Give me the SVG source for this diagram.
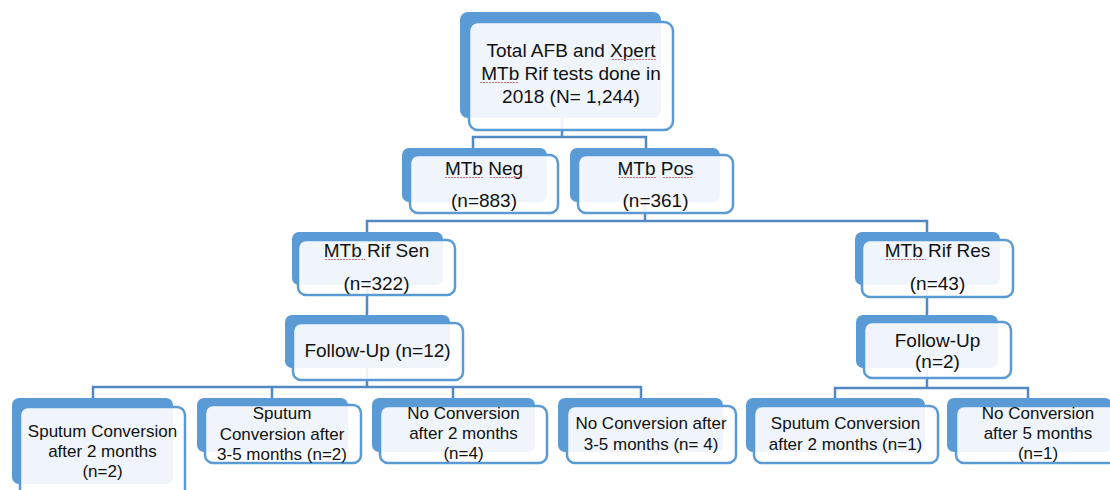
<svg xmlns="http://www.w3.org/2000/svg" width="1110" height="490" viewBox="0 0 1110 490">
<style>
.bk{fill:#5B9BD5}
.fr{fill:#FFFFFF;fill-opacity:0.9;stroke:#5B9BD5;stroke-width:2.5}
.cn{fill:none;stroke:#5289C4;stroke-width:2.5}
.t{font-family:"Liberation Sans",Arial,sans-serif;font-size:19px;fill:#111;text-anchor:middle}
.s{font-family:"Liberation Sans",Arial,sans-serif;font-size:17px;fill:#111;text-anchor:middle}
.sq{stroke:#E07070;stroke-width:1;fill:none;stroke-dasharray:2 1}
</style>
<rect width="1110" height="490" fill="#FFFFFF"/>
<g id="connectors">
<path class="cn" d="M562,118 V137 M473,148 V137 H646 V148"/>
<path class="cn" d="M645,202 V221 M367,232 V221 H927 V232"/>
<path class="cn" d="M367,285 V315"/>
<path class="cn" d="M927,285 V315"/>
<path class="cn" d="M367,368 V387 M93,398 V387 H641 V398 M272,387 V398 M453,387 V398"/>
<path class="cn" d="M927,368 V388 M835,398 V388 H1028 V398"/>
</g>
<g id="n-total">
<rect class="bk" x="460" y="12" width="201" height="106" rx="8"/>
<rect class="fr" x="469" y="22" width="204" height="108" rx="9"/>
<text class="t" x="571" y="57">Total AFB and Xpert</text>
<text class="t" x="571" y="80">MTb Rif tests done in</text>
<text class="t" x="571" y="103">2018 (N= 1,244)</text>
<path class="sq" d="M612,59.5 H657 M480,82.5 H518"/>
</g>
<g id="n-neg">
<rect class="bk" x="402" y="148" width="145" height="54" rx="7"/>
<rect class="fr" x="410" y="155" width="148" height="58" rx="8"/>
<text class="t" x="484" y="175">MTb Neg</text>
<text class="t" x="484" y="207">(n=883)</text>
<path class="sq" d="M445,177.5 H483 M490,177.5 H523"/>
</g>
<g id="n-pos">
<rect class="bk" x="570" y="148" width="150" height="54" rx="7"/>
<rect class="fr" x="578" y="155" width="155" height="58" rx="8"/>
<text class="t" x="655.5" y="175">MTb Pos</text>
<text class="t" x="655.5" y="207">(n=361)</text>
<path class="sq" d="M618,177.5 H657 M663,177.5 H693"/>
</g>
<g id="n-sen">
<rect class="bk" x="292" y="232" width="151" height="53" rx="7"/>
<rect class="fr" x="298" y="240" width="157" height="55" rx="8"/>
<text class="t" x="376.5" y="257">MTb Rif Sen</text>
<text class="t" x="376.5" y="290">(n=322)</text>
<path class="sq" d="M325,259.5 H365"/>
</g>
<g id="n-res">
<rect class="bk" x="855" y="232" width="145" height="53" rx="7"/>
<rect class="fr" x="862" y="240" width="151" height="57" rx="8"/>
<text class="t" x="937.5" y="257">MTb Rif Res</text>
<text class="t" x="937.5" y="290">(n=43)</text>
<path class="sq" d="M886,259.5 H926"/>
</g>
<g id="n-fu12">
<rect class="bk" x="285" y="315" width="165" height="53" rx="7"/>
<rect class="fr" x="293" y="323" width="170" height="57" rx="8"/>
<text class="t" x="377.5" y="357">Follow-Up (n=12)</text>
</g>
<g id="n-fu2">
<rect class="bk" x="856" y="315" width="142" height="53" rx="7"/>
<rect class="fr" x="864" y="322" width="147" height="56" rx="8"/>
<text class="t" x="937.5" y="347">Follow-Up</text>
<text class="t" x="937.5" y="368">(n=2)</text>
</g>
<g id="n-b1">
<rect class="bk" x="12" y="398" width="161" height="86" rx="7"/>
<rect class="fr" x="20" y="407" width="165" height="95" rx="8"/>
<text class="s" x="102.5" y="437">Sputum Conversion</text>
<text class="s" x="102.5" y="457">after 2 months</text>
<text class="s" x="102.5" y="477">(n=2)</text>
</g>
<g id="n-b2">
<rect class="bk" x="197" y="398" width="151" height="54" rx="7"/>
<rect class="fr" x="205" y="405" width="156" height="58" rx="8"/>
<text class="s" x="282" y="419">Sputum</text>
<text class="s" x="282" y="439.5">Conversion after</text>
<text class="s" x="282" y="460">3-5 months (n=2)</text>
</g>
<g id="n-b3">
<rect class="bk" x="372" y="398" width="163" height="54" rx="7"/>
<rect class="fr" x="380" y="406" width="167" height="57" rx="8"/>
<text class="s" x="463.5" y="419">No Conversion</text>
<text class="s" x="463.5" y="439">after 2 months</text>
<text class="s" x="463.5" y="459">(n=4)</text>
</g>
<g id="n-b4">
<rect class="bk" x="558" y="398" width="165" height="54" rx="7"/>
<rect class="fr" x="567" y="406" width="169" height="57" rx="8"/>
<text class="s" x="651" y="429">No Conversion after</text>
<text class="s" x="651" y="450">3-5 months (n= 4)</text>
</g>
<g id="n-b5">
<rect class="bk" x="746" y="398" width="179" height="54" rx="7"/>
<rect class="fr" x="754" y="406" width="184" height="57" rx="8"/>
<text class="s" x="845.5" y="429">Sputum Conversion</text>
<text class="s" x="845.5" y="450">after 2 months (n=1)</text>
</g>
<g id="n-b6">
<rect class="bk" x="947" y="398" width="165" height="54" rx="7"/>
<rect class="fr" x="956" y="406" width="170" height="57" rx="8"/>
<text class="s" x="1038" y="419">No Conversion</text>
<text class="s" x="1038" y="439">after 5 months</text>
<text class="s" x="1038" y="459">(n=1)</text>
</g>
</svg>
